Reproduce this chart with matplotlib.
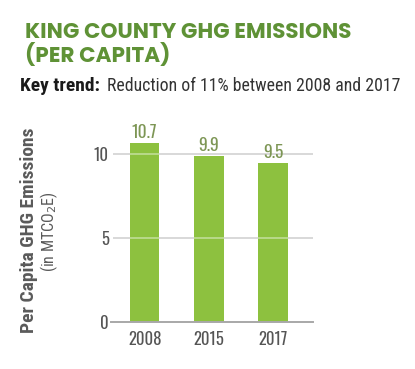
import matplotlib
matplotlib.use("Agg")
import matplotlib.pyplot as plt
import numpy as np

# chart data
years = ["2008", "2015", "2017"]
emissions = [10.7, 9.9, 9.5]
y_ticks = [0, 5, 10]

bar_green = "#8dc13f"
title_green = "#5f9236"
label_gray = "#555555"
cond = ["Roboto Condensed", "DejaVu Sans"]
nums = ["Oswald", "DejaVu Sans"]

fig = plt.figure(figsize=(4.15, 3.69), dpi=100)
fig.patch.set_facecolor("white")

# titles
fig.text(25 / 415, 1 - 38 / 369, "KING COUNTY GHG EMISSIONS", family="Poppins",
         weight="bold", fontsize=15.5, color=title_green)
fig.text(25 / 415, 1 - 62 / 369, "(PER CAPITA)", family="Poppins",
         weight="bold", fontsize=15.5, color=title_green)
fig.text(20 / 415, 1 - 91 / 369, "Key trend:", family=cond, weight="bold",
         fontsize=14, color="#1a1a1a")
fig.text(107 / 415, 1 - 91 / 369, "Reduction of 11% between 2008 and 2017",
         family=cond, fontsize=12.8, color="#333333")

ax = fig.add_axes([113 / 415, 47.3 / 369, 200 / 415, 192.4 / 369])
x = np.arange(len(years))

# grey gridlines behind, light line over the bars
for t in y_ticks[1:]:
    ax.axhline(t, color="#b8b8b8", lw=1.2, zorder=0)
    ax.axhline(t, color="white", lw=1.2, alpha=0.45, zorder=3)
ax.axhline(0, xmin=-0.01, color="#a8a8a8", lw=1.4, zorder=4, clip_on=False)

ax.bar(x, emissions, width=0.46, color=bar_green, zorder=2)
for xi, v in zip(x, emissions):
    ax.text(xi, v + 0.12, f"{v}", ha="center", va="bottom", family=nums,
            fontsize=12.5, weight="light", color="#7d9655")

ax.set_xlim(-0.495, 2.625)
ax.set_ylim(0, 11.5)
ax.set_xticks(x)
ax.set_xticklabels(years, family=nums, fontsize=12, color=label_gray)
ax.set_yticks(y_ticks)
ax.set_yticklabels([str(t) for t in y_ticks], family=nums, fontsize=12,
                   color=label_gray)
ax.tick_params(length=0, pad=3)
ax.tick_params(axis="x", pad=7)
for s in ax.spines.values():
    s.set_visible(False)

fig.text(29 / 415, 1 - 230 / 369, "Per Capita GHG Emissions", rotation=90,
         ha="center", va="center", family=cond, weight="bold", fontsize=14,
         color="#5a5a5a")
fig.text(49 / 415, 1 - 232 / 369, r"(in MTCO$_2$E)", rotation=90,
         ha="center", va="center", family=cond, fontsize=11.5,
         color="#5a5a5a")

fig.savefig("out.png", dpi=100, facecolor="white")
